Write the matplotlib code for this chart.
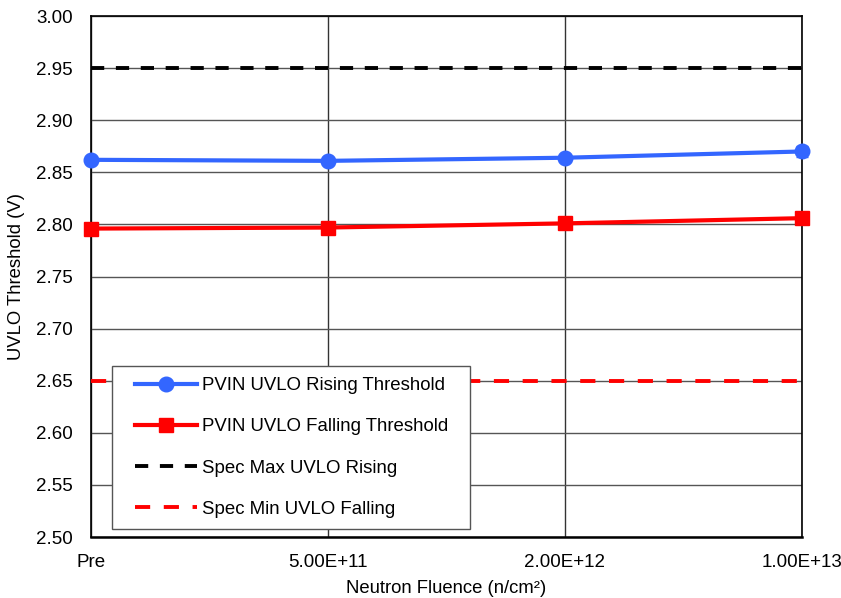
import numpy as np
import matplotlib.pyplot as plt
from matplotlib.legend_handler import HandlerLine2D

plt.rcParams['font.family'] = ['Liberation Sans', 'DejaVu Sans']

categories = ["Pre", "5.00E+11", "2.00E+12", "1.00E+13"]
rising = [2.862, 2.861, 2.864, 2.870]
rising_err = [0.002, 0.001, 0.002, 0.005]
falling = [2.796, 2.797, 2.801, 2.806]
falling_err = [0.001, 0.001, 0.001, 0.002]
spec_max_rising = 2.95
spec_min_falling = 2.65

x = np.arange(len(categories))

fig = plt.figure(figsize=(8.41, 5.98), dpi=100)
ax = fig.add_axes([0.1082, 0.102, 0.8454, 0.8712])

# grid first so data sits on top
ax.set_axisbelow(True)
ax.grid(axis='y', color='#555555', linewidth=1)
ax.grid(axis='x', color='#333333', linewidth=1)

# small error bars, no legend entries for them
ax.errorbar(x, rising, yerr=rising_err, fmt='none', ecolor='#3366ff', capsize=4,
            elinewidth=1, zorder=4, clip_on=False)
ax.errorbar(x, falling, yerr=falling_err, fmt='none', ecolor='#ff0000', capsize=4,
            elinewidth=1, zorder=4, clip_on=False)

h1, = ax.plot(x, rising, color='#3366ff', marker='o', markersize=10.5, linewidth=3,
              label='PVIN UVLO Rising Threshold', zorder=5, clip_on=False)
h2, = ax.plot(x, falling, color='#ff0000', marker='s', markersize=10, linewidth=3,
              label='PVIN UVLO Falling Threshold', zorder=5, clip_on=False)
h3, = ax.plot(x, [spec_max_rising] * len(x), color='black', linewidth=2.8, dashes=(3.4, 3.0),
              label='Spec Max UVLO Rising', zorder=3)
h4, = ax.plot(x, [spec_min_falling] * len(x), color='#ff0000', linewidth=2.8, dashes=(3.9, 3.5),
              label='Spec Min UVLO Falling', zorder=3)

ax.set_xlim(0, 3)
ax.set_ylim(2.50, 3.00)
ax.set_xticks(x)
ax.set_xticklabels(categories)
ax.set_yticks(np.arange(2.50, 3.001, 0.05))
ax.yaxis.set_major_formatter(plt.FormatStrFormatter('%.2f'))
ax.tick_params(axis='x', length=0, labelsize=13.5, pad=12)
ax.tick_params(axis='y', length=0, labelsize=13.5, pad=13)
for s in ax.spines.values():
    s.set_color('black')
    s.set_linewidth(1.2)
ax.spines['bottom'].set_linewidth(1.8)

ax.set_xlabel('Neutron Fluence (n/cm²)', fontsize=13.3, labelpad=7)
ax.set_ylabel('UVLO Threshold (V)', fontsize=13.3, labelpad=8)

# legend box stretched wider than its contents, handles indented a little
hmap = {h: HandlerLine2D(xpad=0.64) for h in (h1, h2, h3, h4)}
leg = ax.legend(handles=[h1, h2, h3, h4], handler_map=hmap, loc='lower left',
                bbox_to_anchor=(0.0295, 0.0154, 0.5035, 0.3), mode='expand',
                borderaxespad=0, fontsize=13.4, frameon=True, fancybox=False,
                edgecolor='#555555', framealpha=1, handlelength=3.97, labelspacing=1.3,
                borderpad=0.6, handletextpad=0.27)
leg.get_frame().set_linewidth(1)

fig.savefig('out.png', dpi=100)
